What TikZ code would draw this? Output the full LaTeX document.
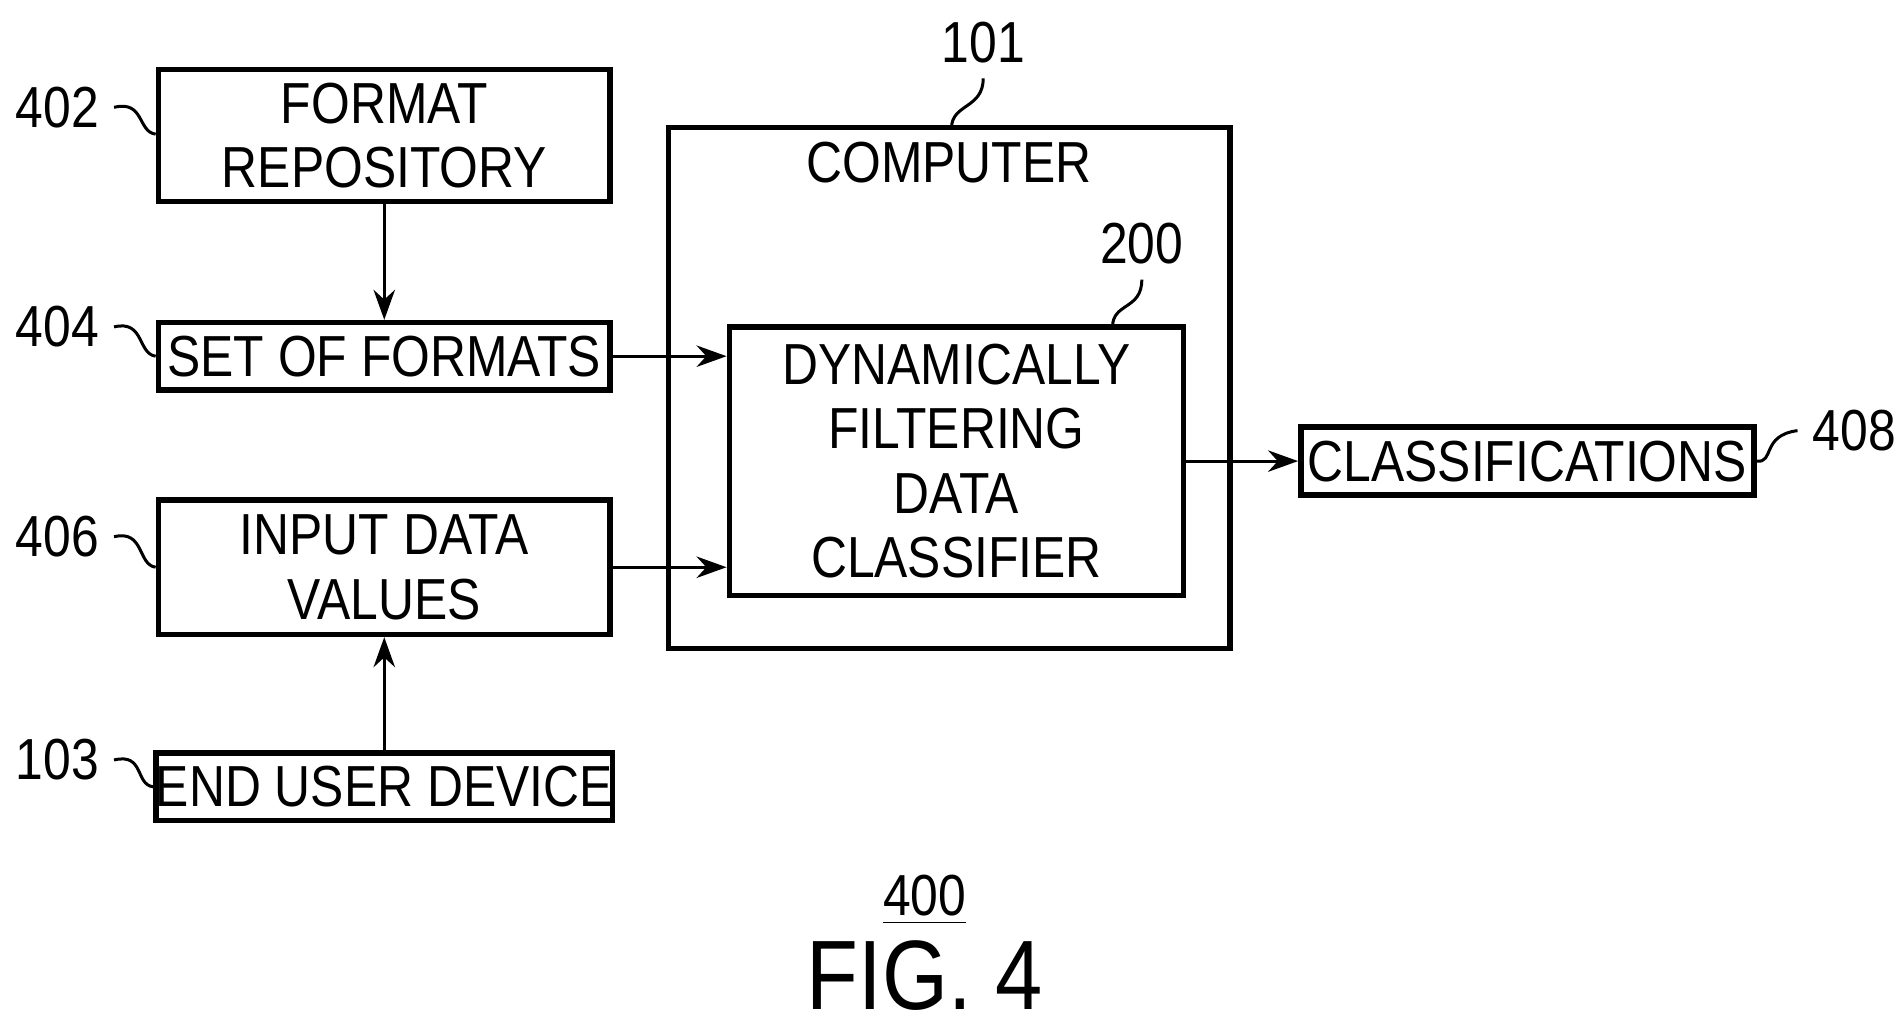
\documentclass[tikz,border=0pt]{standalone}
\usepackage{fontspec}
\setmainfont{Liberation Sans}[FakeStretch=0.86]
\usetikzlibrary{positioning, arrows.meta}

\tikzset{
  block/.style={draw, line width=1.3pt, inner sep=0pt, align=center, font=\fontsize{13.5}{15}\selectfont},
  ref/.style={font=\fontsize{13.5}{15}\selectfont},
  flow/.style={-{Stealth[length=7pt,width=5pt]}, line width=0.7pt},
  lead/.style={line width=0.7pt}
}

\begin{document}
\begin{tikzpicture}[x=0.01cm, y=-0.01cm]
        \useasboundingbox (0,0) rectangle (1560,846);

        % blocks
        \node[block, minimum width=3.7cm, minimum height=1.08cm] (repo) at (315,111) {FORMAT\\REPOSITORY};
        \node[block, minimum width=3.7cm, minimum height=0.55cm] (formats) at (315,292) {SET OF FORMATS};
        \node[block, minimum width=3.7cm, minimum height=1.1cm] (values) at (315,465) {INPUT DATA\\VALUES};
        \node[block, minimum width=3.7cm, minimum height=0.55cm] (device) at (315,645) {END USER DEVICE};
        \node[block, minimum width=4.6cm, minimum height=4.27cm] (computer) at (778,318) {};
        \node[ref] (comptext) at (778,133) {COMPUTER};
        \node[block, minimum width=3.72cm, minimum height=2.2cm] (filter) at (784,378) {DYNAMICALLY\\FILTERING\\DATA\\CLASSIFIER};
        \node[block, minimum width=3.71cm, minimum height=0.56cm] (classes) at (1252,378) {CLASSIFICATIONS};

        % connectors
        \draw[flow] (repo) -- (formats);
        \draw[flow] (device) -- (values);
        \draw[flow] (formats.east) -- (formats.east -| filter.west);
        \draw[flow] (values.east) -- (values.east -| filter.west);
        \draw[flow] (filter.east) -- (classes.west);

        % reference numerals
        \node[ref] (n402) at (47,88) {402};
        \node[ref] (n404) at (47,268) {404};
        \node[ref] (n406) at (47,440) {406};
        \node[ref] (n103) at (47,623) {103};
        \node[ref] (n101) at (806,35) {101};
        \node[ref] (n200) at (936,200) {200};
        \node[ref] (n408) at (1520,353) {408};

        \draw[lead] (n402.east) .. controls +(25,-6) and +(-15,-2) .. (repo.west |- 0,110);
        \draw[lead] (n404.east) .. controls +(25,-6) and +(-15,-2) .. (formats.west);
        \draw[lead] (n406.east) .. controls +(25,-6) and +(-15,-2) .. (values.west);
        \draw[lead] (n103.east) .. controls +(25,-6) and +(-15,-2) .. (device.west);
        \draw[lead] (n101.south) .. controls +(0,25) and +(0,-20) .. (780,105);
        \draw[lead] (n200.south) .. controls +(0,25) and +(0,-20) .. (912,268);
        \draw[lead] (n408.west) .. controls +(-30,4) and +(15,2) .. (classes.east);

        % figure caption
        \node[ref] (num) at (758,738) {\underline{400}};
        \node[font=\fontsize{23}{26}\selectfont] (fig) at (758,800) {FIG. 4};
      \end{tikzpicture}
\end{document}
